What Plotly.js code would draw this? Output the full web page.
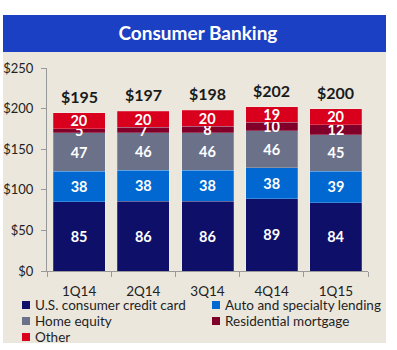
<!DOCTYPE html>
<html><head><meta charset="utf-8">
<script src="https://cdn.plot.ly/plotly-3.0.1.min.js"></script>
<style>
html,body{margin:0;padding:0;background:#fff;}
#chart{position:absolute;left:3px;top:15px;width:383px;height:335px;}
</style></head>
<body><div id="chart"></div>
<script>
const quarters = ['1Q14','2Q14','3Q14','4Q14','1Q15'];
const creditCard = [85, 86, 86, 89, 84];
const autoLending = [38, 38, 38, 38, 39];
const homeEquity = [47, 46, 46, 46, 45];
const residential = [5, 7, 8, 10, 12];
const other = [20, 20, 20, 19, 20];
const totals = [195, 197, 198, 202, 200];
const seriesNames = ['U.S. consumer credit card','Auto and specialty lending','Home equity','Residential mortgage','Other'];
const seriesColors = ['#0e0f68','#0068d0','#6b7189','#80002a','#d8001c'];
const seriesValues = [creditCard, autoLending, homeEquity, residential, other];

const FONT = 'Lato, "Open Sans", sans-serif';
const traces = seriesValues.map((vals, i) => ({
  type: 'bar', x: quarters, y: vals, name: seriesNames[i],
  marker: {color: seriesColors[i], line: {color: 'rgba(255,255,255,0.35)', width: 0.6}},
  text: vals.map(String), textposition: 'inside', insidetextanchor: 'middle', textangle: 0,
  constraintext: 'none', cliponaxis: false,
  textfont: {family: FONT, size: 14.5, color: '#ffffff', weight: 'bold'},
  hoverinfo: 'skip', showlegend: false
}));

// Plot area in the page: x from 47 to 368, y from 68 ($250) to 271 ($0)
const px = X => (X - 47) / 321;
const py = Y => (271 - Y) / 203;

const annotations = quarters.map((q, i) => ({
  x: q, y: totals[i], xref: 'x', yref: 'y', text: '$' + totals[i],
  showarrow: false, yanchor: 'bottom', yshift: 5,
  font: {family: FONT, size: 16, color: '#1a1a1a', weight: 'bold'}
}));

// Panel background and title band
const shapes = [
  {type: 'rect', xref: 'paper', yref: 'paper', x0: px(3), x1: px(386), y0: py(343), y1: py(52),
   fillcolor: '#ebe7dd', line: {width: 0}, layer: 'below'},
  {type: 'rect', xref: 'paper', yref: 'paper', x0: px(3), x1: px(386), y0: py(52), y1: py(15),
   fillcolor: '#1b40c4', line: {width: 0}, layer: 'below'}
];

// Legend: two columns, drawn from the series names/colours
const legendCols = [22, 212];
const legendRows = [305, 321, 337];
seriesNames.forEach((name, i) => {
  const cx = legendCols[i % 2], cy = legendRows[Math.floor(i / 2)];
  shapes.push({type: 'rect', xref: 'paper', yref: 'paper', x0: px(cx), x1: px(cx + 8),
               y0: py(cy + 4), y1: py(cy - 4), fillcolor: seriesColors[i], line: {width: 0}});
  annotations.push({xref: 'paper', yref: 'paper', x: px(cx + 11), y: py(cy), xanchor: 'left', yanchor: 'middle',
                    text: name, showarrow: false, font: {family: FONT, size: 13.5, color: '#1f1f1f'}});
});

const layout = {
  width: 383, height: 335,
  paper_bgcolor: '#ffffff', plot_bgcolor: 'rgba(0,0,0,0)',
  margin: {l: 44, r: 18, t: 53, b: 79, autoexpand: false},
  barmode: 'stack', bargap: 0.19,
  title: {text: '<b>Consumer Banking</b>', x: 0.509, xref: 'container', xanchor: 'center',
          y: 1 - 18 / 335, yref: 'container', yanchor: 'middle',
          font: {family: FONT, size: 19, color: '#ffffff'}},
  shapes: shapes,
  xaxis: {showline: true, linecolor: '#999', linewidth: 1, ticks: 'outside', tickson: 'boundaries',
          ticklen: 5, tickcolor: '#999', showgrid: false, ticklabelstandoff: 8,
          tickfont: {family: FONT, size: 13.5, color: '#222'}},
  yaxis: {range: [0, 250], dtick: 50, tickprefix: '$', showline: true, linecolor: '#999', linewidth: 1,
          ticks: 'outside', ticklen: 5, tickcolor: '#999', showgrid: false, zeroline: false,
          ticklabelstandoff: 5,
          tickfont: {family: FONT, size: 13, color: '#222'}},
  annotations: annotations,
  showlegend: false
};
Plotly.newPlot('chart', traces, layout, {displayModeBar: false, staticPlot: true});
</script></body></html>
